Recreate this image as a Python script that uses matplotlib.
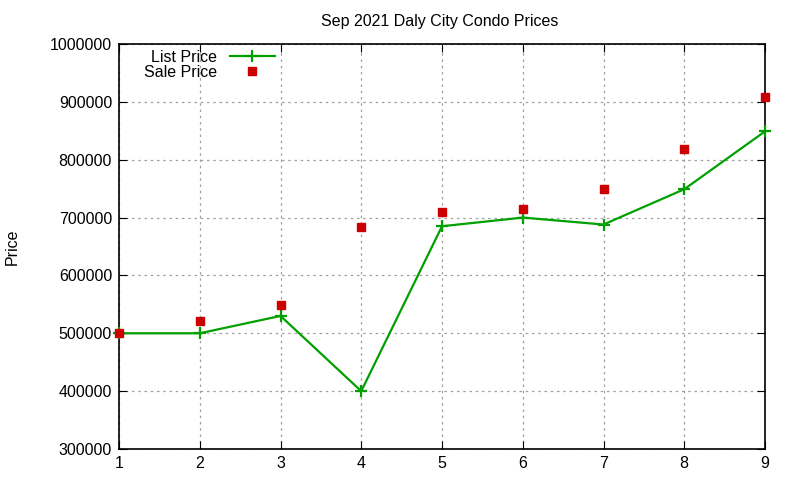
import matplotlib
matplotlib.use("Agg")
import matplotlib.pyplot as plt

plt.rcParams['font.family'] = ['Liberation Sans', 'DejaVu Sans']
plt.rcParams['font.size'] = 11.5

month = [1, 2, 3, 4, 5, 6, 7, 8, 9]
list_price = [500000, 500000, 530000, 400000, 685000, 700000, 688000, 749000, 849000]
sale_price = [500000, 522000, 549000, 684000, 710000, 715000, 750000, 819000, 909000]

fig = plt.figure(figsize=(8, 4.8), dpi=100)
ax = fig.add_axes([0.14875, 0.0646, 0.8075, 0.8437])

ax.plot(month, list_price, color='#00a000', lw=1.6, marker='+', ms=8, mew=1.6,
        label='List Price', clip_on=False, zorder=3)
ax.plot(month, sale_price, ls='none', color='#cc0000', marker='s', ms=6,
        label='Sale Price', clip_on=False, zorder=4)

ax.set_xlim(1, 9)
ax.set_ylim(300000, 1000000)
ax.set_xticks(range(1, 10))
ax.set_yticks(range(300000, 1000001, 100000))
ax.ticklabel_format(style='plain', axis='y')
ax.tick_params(direction='in', top=True, right=True, length=6, pad=5)
ax.grid(True, color='#a0a0a0', ls=(0, (2, 3)), lw=0.9)
for s in ax.spines.values():
    s.set_linewidth(1.2)

ax.set_ylabel('Price', labelpad=22)
fig.text(0.55, 0.956, 'Sep 2021 Daly City Condo Prices', ha='center', va='center')

leg = ax.legend(loc='upper left', bbox_to_anchor=(0.019, 1.018), frameon=False,
                markerfirst=False, handlelength=2.8, borderpad=0.3,
                labelspacing=0.0, handletextpad=0.8)
for t in leg.get_texts():
    t.set_ha('right')

fig.savefig('out.png', dpi=100)
